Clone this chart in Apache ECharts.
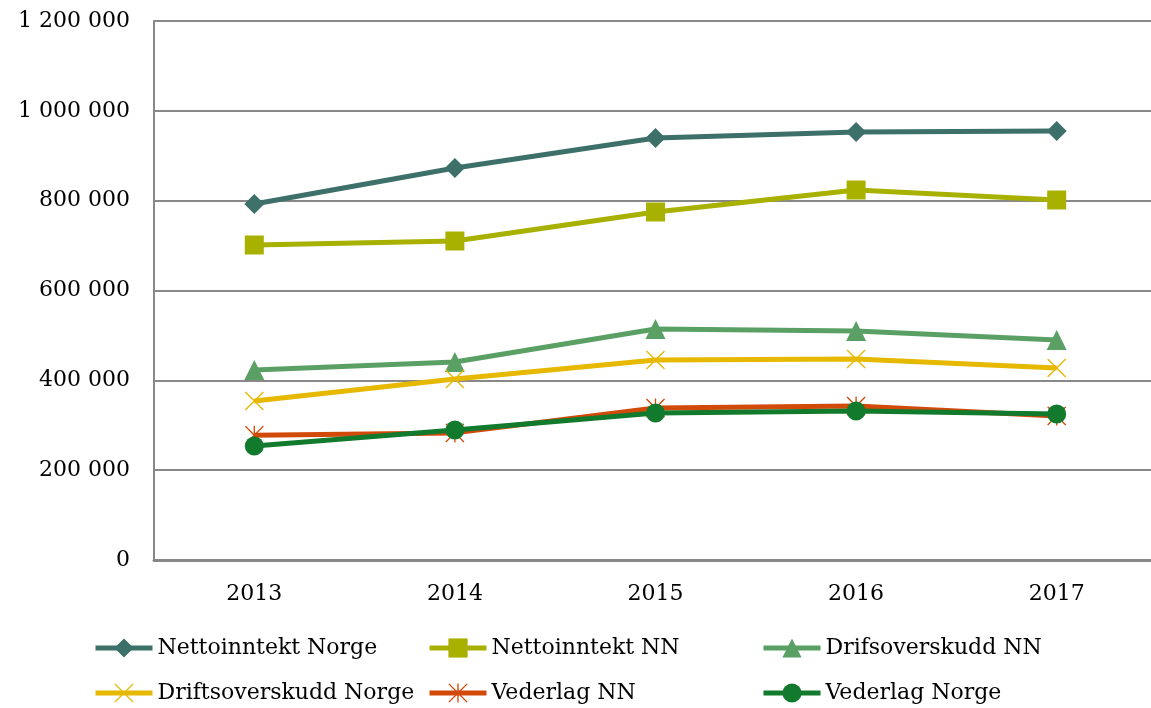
<!DOCTYPE html>
<html>
<head>
<meta charset="utf-8">
<script src="https://cdn.jsdelivr.net/npm/echarts@6/dist/echarts.min.js"></script>
<style>
  html, body { margin: 0; padding: 0; background: #fff; }
  #main { width: 1151px; height: 708px; }
</style>
</head>
<body>
<div id="main"></div>
<script>
  // data
  var years = ['2013', '2014', '2015', '2016', '2017'];
  var nettoNorge = [792600, 872700, 939500, 952900, 955100];
  var nettoNN = [701300, 710200, 774800, 823700, 801500];
  var driftNN = [423000, 440800, 514300, 509800, 489800];
  var driftNorge = [354000, 403000, 445300, 447500, 427500];
  var vederlagNN = [278000, 283000, 338400, 342900, 320600];
  var vederlagNorge = [253800, 289400, 327300, 331700, 325000];
  var yTicks = [0, 200000, 400000, 600000, 800000, 1000000, 1200000];

  // thin cross / asterisk markers
  var crossPath = 'path://M0,1 L1,0 L10,9 L19,0 L20,1 L11,10 L20,19 L19,20 L10,11 L1,20 L0,19 L9,10 Z';
  var starPath = 'path://M0,1 L1,0 L10,9 L19,0 L20,1 L11,10 L20,19 L19,20 L10,11 L1,20 L0,19 L9,10 Z M9.3,0 L10.7,0 L10.7,20 L9.3,20 Z';

  function fmt(v) {
    return String(v).replace(/\B(?=(\d{3})+(?!\d))/g, ' ');
  }

  function line(name, data, color, symbol, size) {
    return {
      name: name,
      type: 'line',
      data: data,
      symbol: symbol,
      symbolSize: size,
      itemStyle: { color: color },
      lineStyle: { color: color, width: 5 },
      emphasis: { disabled: true }
    };
  }

  var legendText = { fontFamily: 'DejaVu Serif', fontSize: 22, color: '#000' };
  function legend(names, left) {
    return {
      data: names,
      orient: 'vertical',
      left: left,
      top: 637,
      itemWidth: 57,
      itemHeight: 24,
      itemGap: 23,
      lineStyle: { width: 5 },
      textStyle: legendText,
      padding: 0,
      selectedMode: false
    };
  }

  var myChart = echarts.init(document.getElementById('main'));
  var option = {
    animation: false,
    legend: [
      legend(['Nettoinntekt Norge', 'Driftsoverskudd Norge'], 93),
      legend(['Nettoinntekt NN', 'Vederlag NN'], 427),
      legend(['Drifsoverskudd NN', 'Vederlag Norge'], 761)
    ],
    grid: { left: 154, width: 1003, top: 21, bottom: 148, outerBoundsMode: 'none' },
    xAxis: {
      type: 'category',
      data: years,
      axisLine: { lineStyle: { color: '#888', width: 3 } },
      axisTick: { show: false },
      axisLabel: { fontFamily: 'DejaVu Serif', fontSize: 22, color: '#000', margin: 23 }
    },
    yAxis: {
      type: 'value',
      min: yTicks[0],
      max: yTicks[yTicks.length - 1],
      interval: 200000,
      axisLine: { show: true, lineStyle: { color: '#888', width: 2 } },
      axisTick: { show: false },
      splitLine: { lineStyle: { color: '#888', width: 2 } },
      axisLabel: {
        fontFamily: 'DejaVu Serif', fontSize: 22, color: '#000', margin: 24,
        formatter: function (v) { return fmt(v); }
      }
    },
    series: [
      line('Nettoinntekt Norge', nettoNorge, '#3d7068', 'diamond', 20),
      line('Nettoinntekt NN', nettoNN, '#a8b000', 'rect', 19),
      line('Drifsoverskudd NN', driftNN, '#5aa064', 'triangle', 20),
      line('Driftsoverskudd Norge', driftNorge, '#e6b800', crossPath, 19),
      line('Vederlag NN', vederlagNN, '#d24a0a', starPath, 19),
      line('Vederlag Norge', vederlagNorge, '#127a2d', 'circle', 19)
    ]
  };
  myChart.setOption(option);
</script>
</body>
</html>
